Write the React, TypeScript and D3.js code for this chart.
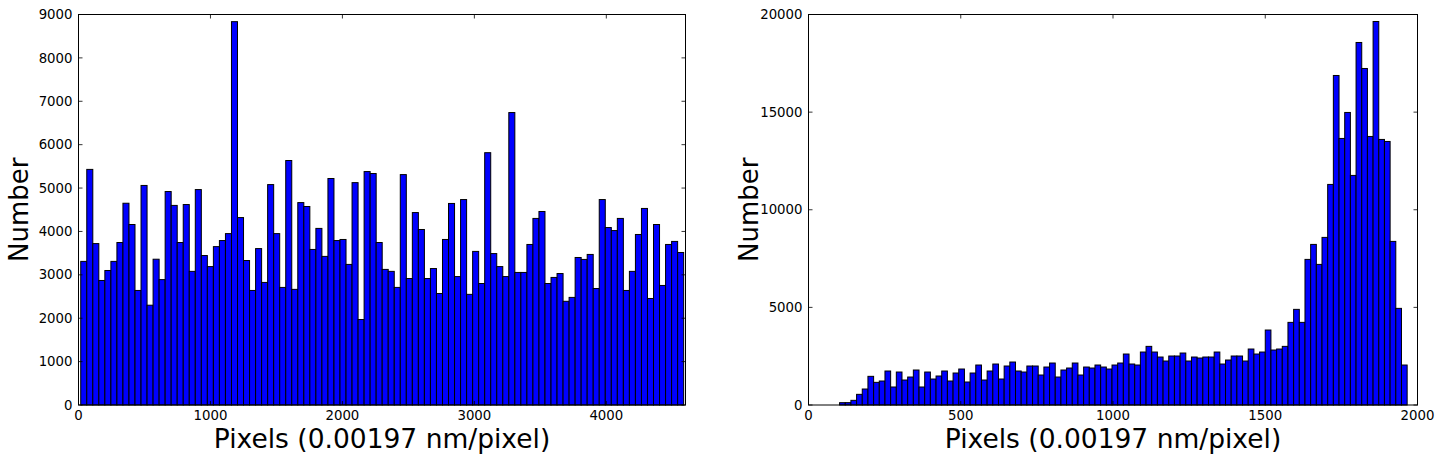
import React from "react";
import * as d3 from "d3";

// ---- Data ----
const leftCounts = [
  3310, 5430, 3720, 2870, 3100, 3310, 3745, 4650, 4160, 2640,
  5060, 2300, 3360, 2890, 4920, 4600, 3745, 4620, 3080, 4965,
  3445, 3190, 3650, 3790, 3950, 8835, 4320, 3330, 2640, 3605,
  2825, 5080, 3950, 2710, 5635, 2665, 4665, 4575, 3585, 4070,
  3425, 5220, 3790, 3815, 3240, 5125, 1970, 5380, 5335, 3745,
  3125, 3080, 2710, 5310, 2915, 4435, 4045, 2915, 3145, 2570,
  3815, 4645, 2960, 4735, 2550, 3540, 2800, 5815, 3490, 3190,
  2960, 6740, 3055, 3055, 3700, 4300, 4460, 2800, 2940, 3030,
  2390, 2480, 3400, 3355, 3470, 2685, 4735, 4090, 4020, 4300,
  2640, 3080, 3930, 4530, 2455, 4160, 2755, 3700, 3770, 3515,
];
const leftBinStart = 17;
const leftBinWidth = 45.69;
const leftXTicks = [0, 1000, 2000, 3000, 4000];
const leftYTicks = [0, 1000, 2000, 3000, 4000, 5000, 6000, 7000, 8000, 9000];
const leftXMax = 4600;
const leftYMax = 9000;

const rightCounts = [
  119, 120, 239, 546, 819, 1468, 1160, 1229, 1741, 922,
  1689, 1280, 1433, 1792, 922, 1689, 1331, 1485, 1741, 1229,
  1638, 1843, 1178, 1638, 2048, 1280, 1741, 2099, 1331, 1997,
  2201, 1741, 1689, 1997, 1997, 1536, 1945, 2150, 1433, 1792,
  1894, 2150, 1536, 1945, 1894, 2048, 1945, 1843, 2048, 2150,
  2611, 2099, 2048, 2713, 3003, 2713, 2457, 2253, 2509, 2509,
  2662, 2253, 2457, 2406, 2457, 2457, 2713, 2099, 2304, 2509,
  2509, 2253, 2867, 2611, 2713, 3840, 2816, 2867, 3003, 4232,
  4898, 4232, 7457, 8225, 7201, 8584, 11297, 16877, 13652, 14983,
  11758, 18567, 17235, 13754, 19642, 13601, 13498, 8379, 4949, 2048,
];
const rightBinStart = 102;
const rightBinWidth = 18.64;
const rightXTicks = [0, 500, 1000, 1500, 2000];
const rightYTicks = [0, 5000, 10000, 15000, 20000];
const rightXMax = 2000;
const rightYMax = 20000;

const xLabel = "Pixels (0.00197 nm/pixel)";
const yLabel = "Number";

const FONT = "'DejaVu Sans', sans-serif";

type PanelProps = {
  left: number;
  right: number;
  top: number;
  bottom: number;
  counts: number[];
  binStart: number;
  binWidth: number;
  xMax: number;
  yMax: number;
  xTicks: number[];
  yTicks: number[];
  yLabelX: number;
};

function Panel(p: PanelProps) {
  const x = d3.scaleLinear().domain([0, p.xMax]).range([p.left, p.right]);
  const y = d3.scaleLinear().domain([0, p.yMax]).range([p.bottom, p.top]);
  const tickLen = 4;
  const cx = (p.left + p.right) / 2;
  const cy = (p.top + p.bottom) / 2;
  return (
    <g>
      {p.counts.map((c, i) => {
        const x0 = x(p.binStart + i * p.binWidth);
        const x1 = x(p.binStart + (i + 1) * p.binWidth);
        return (
          <rect
            key={i}
            x={x0}
            y={y(c)}
            width={x1 - x0}
            height={y(0) - y(c)}
            fill="#0000ff"
            stroke="#000"
            strokeWidth={1}
          />
        );
      })}
      {/* frame */}
      <rect
        x={p.left}
        y={p.top}
        width={p.right - p.left}
        height={p.bottom - p.top}
        fill="none"
        stroke="#000"
        strokeWidth={1}
      />
      {/* x ticks */}
      {p.xTicks.map((t) => (
        <g key={"xt" + t}>
          <line x1={x(t)} x2={x(t)} y1={p.bottom} y2={p.bottom - tickLen} stroke="#000" strokeWidth={0.8} />
          <line x1={x(t)} x2={x(t)} y1={p.top} y2={p.top + tickLen} stroke="#000" strokeWidth={0.8} />
          <text x={x(t)} y={p.bottom + 14.5} textAnchor="middle" fontFamily={FONT} fontSize={13.3} fill="#000">
            {t}
          </text>
        </g>
      ))}
      {/* y ticks */}
      {p.yTicks.map((t) => (
        <g key={"yt" + t}>
          <line x1={p.left} x2={p.left + tickLen} y1={y(t)} y2={y(t)} stroke="#000" strokeWidth={0.8} />
          <line x1={p.right} x2={p.right - tickLen} y1={y(t)} y2={y(t)} stroke="#000" strokeWidth={0.8} />
          <text x={p.left - 6} y={y(t)} dy="0.35em" textAnchor="end" fontFamily={FONT} fontSize={13.3} fill="#000">
            {t}
          </text>
        </g>
      ))}
      <text x={cx} y={p.bottom + 43} textAnchor="middle" fontFamily={FONT} fontSize={26.5} fill="#000">
        {xLabel}
      </text>
      <text
        transform={`translate(${p.yLabelX},${cy}) rotate(-90)`}
        textAnchor="middle"
        fontFamily={FONT}
        fontSize={26}
        fill="#000"
      >
        {yLabel}
      </text>
    </g>
  );
}

export default function App() {
  return (
    <svg
      width={1441}
      height={461}
      style={{ position: "absolute", left: 0, top: 0, background: "#fff" }}
    >
      <rect x={0} y={0} width={1441} height={461} fill="#fff" />
      <Panel
        left={78.5}
        right={685.5}
        top={14.5}
        bottom={405}
        counts={leftCounts}
        binStart={leftBinStart}
        binWidth={leftBinWidth}
        xMax={leftXMax}
        yMax={leftYMax}
        xTicks={leftXTicks}
        yTicks={leftYTicks}
        yLabelX={28}
      />
      <Panel
        left={808.5}
        right={1417.5}
        top={14.5}
        bottom={405}
        counts={rightCounts}
        binStart={rightBinStart}
        binWidth={rightBinWidth}
        xMax={rightXMax}
        yMax={rightYMax}
        xTicks={rightXTicks}
        yTicks={rightYTicks}
        yLabelX={758}
      />
    </svg>
  );
}
